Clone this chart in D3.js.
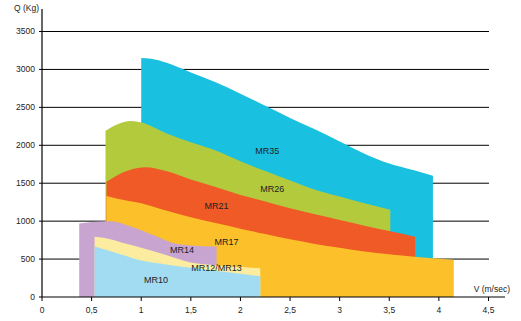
<!DOCTYPE html>
<html>
<head>
<meta charset="utf-8">
<script src="https://cdn.jsdelivr.net/npm/d3@7"></script>
<style>
  body { margin: 0; background: #fff; }
  svg text { font-family: "Liberation Sans", Arial, sans-serif; fill: #222; }
</style>
</head>
<body>
<svg id="chart" width="521" height="321"></svg>
<script>
// load curves per model, speed (m/sec) vs load (kg)
var mr35 = [[1.0,3150],[1.1,3140],[1.25,3090],[1.5,2960],[1.75,2830],[2.0,2680],[2.25,2520],[2.5,2360],[2.75,2210],[3.0,2050],[3.25,1890],[3.5,1760],[3.75,1670],[3.94,1600]];
var mr26 = [[0.64,2190],[0.75,2270],[0.9,2320],[1.0,2300],[1.25,2160],[1.5,2040],[1.75,1930],[2.0,1790],[2.25,1660],[2.5,1535],[2.75,1415],[3.0,1325],[3.25,1235],[3.51,1150]];
var mr21 = [[0.65,1520],[0.75,1600],[0.9,1680],[1.04,1710],[1.25,1660],[1.5,1550],[1.75,1450],[2.0,1345],[2.25,1260],[2.5,1170],[2.75,1090],[3.0,1015],[3.25,940],[3.5,870],[3.76,795]];
var mr17 = [[0.65,1330],[0.75,1300],[1.0,1235],[1.25,1140],[1.5,1050],[1.75,975],[2.0,900],[2.25,830],[2.5,760],[2.75,700],[3.0,650],[3.25,600],[3.5,565],[3.75,530],[4.0,505],[4.15,490]];
var mr14 = [[0.375,970],[0.5,990],[0.7,1000],[0.85,950],[1.0,880],[1.15,800],[1.3,720],[1.5,680],[1.76,665]];
var mr12 = [[0.53,795],[0.62,780],[0.8,720],[1.0,650],[1.25,555],[1.5,455],[1.75,420],[2.0,395],[2.2,380]];
var mr10 = [[0.53,665],[0.6,640],[0.8,560],[1.0,480],[1.25,430],[1.5,385],[1.75,345],[2.0,305],[2.2,275]];

var seriesNames = ['MR35', 'MR26', 'MR21', 'MR17', 'MR14', 'MR12/MR13', 'MR10'];
var seriesData = [mr35, mr26, mr21, mr17, mr14, mr12, mr10];
var colors = ['#1ac0e0', '#b3ca3c', '#ef5a27', '#fbc02a', '#c8a5d0', '#fcec9f', '#a2dcf2'];
// label anchor positions (speed, load)
var labelPos = [[2.27,1930],[2.32,1430],[1.76,1200],[1.86,730],[1.41,620],[1.76,390],[1.15,220]];

var xTicks = [0, 0.5, 1, 1.5, 2, 2.5, 3, 3.5, 4, 4.5];
var yTicks = [0, 500, 1000, 1500, 2000, 2500, 3000, 3500];

var svg = d3.select('#chart');
var x = d3.scaleLinear().domain([0, 4.5]).range([42, 488.5]);
var y = d3.scaleLinear().domain([0, 3500]).range([297, 31.5]);

// gridlines behind the areas
svg.append('g').selectAll('line')
  .data(yTicks.filter(function (d) { return d > 0; }))
  .enter().append('line')
  .attr('x1', x(0) - 3).attr('x2', 489)
  .attr('y1', function (d) { return y(d); })
  .attr('y2', function (d) { return y(d); })
  .style('stroke', '#000')
  .style('stroke-width', 1);

var area = d3.area()
  .x(function (d) { return x(d[0]); })
  .y0(y(0))
  .y1(function (d) { return y(d[1]); })
  .curve(d3.curveMonotoneX);

seriesData.forEach(function (s, i) {
  svg.append('path')
    .datum(s)
    .attr('d', area)
    .style('fill', colors[i]);
});

// labels
seriesNames.forEach(function (name, i) {
  svg.append('text')
    .attr('x', x(labelPos[i][0]))
    .attr('y', y(labelPos[i][1]))
    .attr('text-anchor', 'middle')
    .attr('dy', '0.35em')
    .style('font-size', '9px')
    .text(name);
});

// axes
svg.append('line')
  .attr('x1', x(0)).attr('x2', x(0))
  .attr('y1', 9).attr('y2', y(0))
  .style('stroke', '#000').style('stroke-width', 1.2);
svg.append('line')
  .attr('x1', x(0) - 3).attr('x2', 505)
  .attr('y1', y(0)).attr('y2', y(0))
  .style('stroke', '#000').style('stroke-width', 1.2);

svg.append('g').selectAll('line')
  .data(xTicks)
  .enter().append('line')
  .attr('x1', function (d) { return x(d); })
  .attr('x2', function (d) { return x(d); })
  .attr('y1', y(0)).attr('y2', y(0) + 4)
  .style('stroke', '#000').style('stroke-width', 1);

var fmt = function (d) { return String(d).replace('.', ','); };

svg.append('g').selectAll('text')
  .data(xTicks)
  .enter().append('text')
  .attr('x', function (d) { return x(d); })
  .attr('y', 313)
  .attr('text-anchor', 'middle')
  .style('font-size', '8.5px')
  .text(fmt);

svg.append('g').selectAll('text')
  .data(yTicks)
  .enter().append('text')
  .attr('x', 35)
  .attr('y', function (d) { return y(d); })
  .attr('dy', '0.35em')
  .attr('text-anchor', 'end')
  .style('font-size', '8.5px')
  .text(function (d) { return d; });

svg.append('text')
  .attr('x', 39).attr('y', 11)
  .attr('text-anchor', 'end')
  .style('font-size', '8.5px')
  .text('Q (Kg)');

svg.append('text')
  .attr('x', 510).attr('y', 292)
  .attr('text-anchor', 'end')
  .style('font-size', '8.5px')
  .text('V (m/sec)');
</script>
</body>
</html>
